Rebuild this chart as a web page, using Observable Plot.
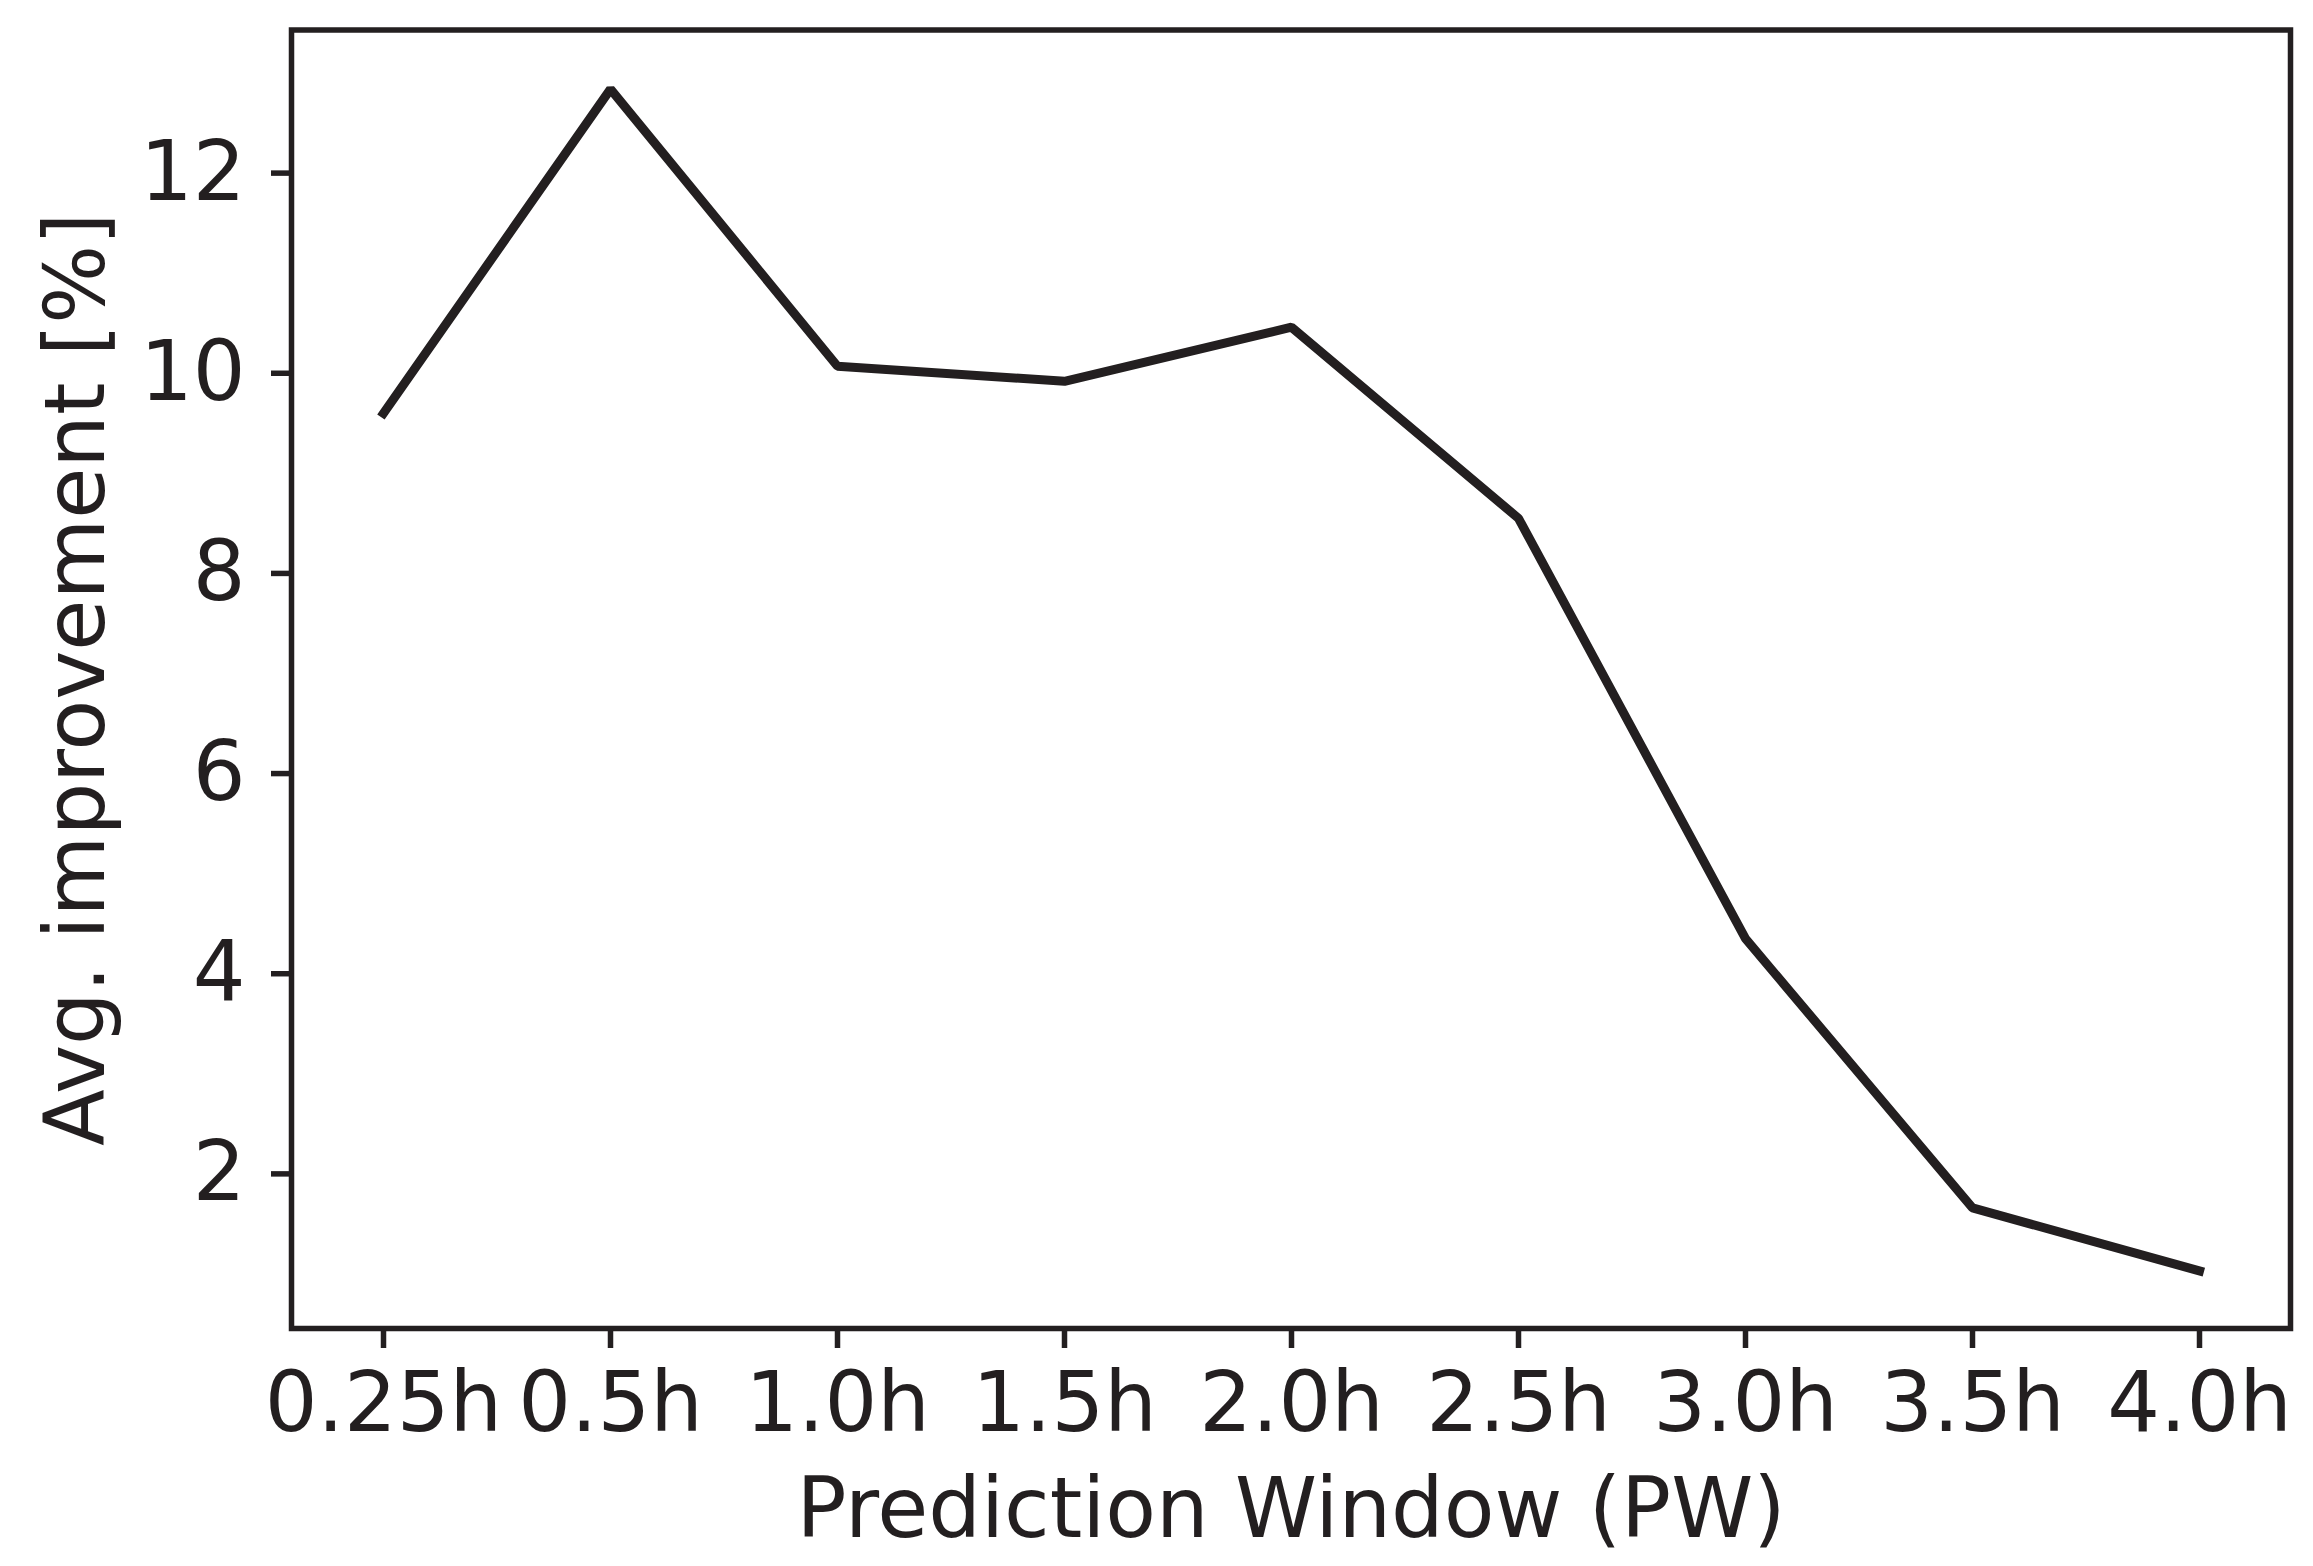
<!DOCTYPE html>
<html>
<head>
<meta charset="utf-8">
<script src="https://cdn.jsdelivr.net/npm/d3@7"></script>
<script src="https://cdn.jsdelivr.net/npm/@observablehq/plot@0.6"></script>
<style>
  html, body { margin: 0; padding: 0; background: white; }
  svg { display: block; }
</style>
</head>
<body>
<div id="chart"></div>
<script>
// Data
const windows = ["0.25h", "0.5h", "1.0h", "1.5h", "2.0h", "2.5h", "3.0h", "3.5h", "4.0h"];
const improvement = [9.6, 12.84, 10.07, 9.92, 10.46, 8.55, 4.35, 1.66, 1.03];
const yTicks = [2, 4, 6, 8, 10, 12];
const xLabel = "Prediction Window (PW)";
const yLabel = "Avg. improvement [%]";

const data = windows.map((w, i) => ({window: w, value: improvement[i]}));

const ink = "#231f20";
const fs = 83;

const chart = Plot.plot({
  width: 2313,
  height: 1566,
  marginLeft: 291,
  marginRight: 23,
  marginTop: 29.5,
  marginBottom: 238,
  style: {fontFamily: "'DejaVu Sans', sans-serif", fontSize: fs + "px", color: ink, background: "white"},
  x: {type: "point", domain: windows, padding: 0.4},
  y: {domain: [0.455, 13.43]},
  marks: [
    Plot.line(data, {x: "window", y: "value", stroke: ink, strokeWidth: 9, strokeLinejoin: "miter", strokeLinecap: "square"}),
    Plot.frame({stroke: ink, strokeWidth: 5.5}),
    Plot.axisX({tickSize: 20, tickPadding: 24, strokeWidth: 5.5, stroke: ink, fill: ink, fontSize: fs, label: null}),
    Plot.axisY({ticks: yTicks, tickSize: 20, tickPadding: 26, strokeWidth: 5.5, stroke: ink, fill: ink, fontSize: fs, label: null}),
    Plot.text([xLabel], {frameAnchor: "bottom", dy: 150, lineAnchor: "top", textAnchor: "middle", fontSize: fs, fill: ink}),
    Plot.text([yLabel], {frameAnchor: "left", dx: -188, rotate: -90, lineAnchor: "bottom", textAnchor: "middle", fontSize: fs, fill: ink})
  ]
});
document.getElementById("chart").appendChild(chart);
</script>
</body>
</html>
